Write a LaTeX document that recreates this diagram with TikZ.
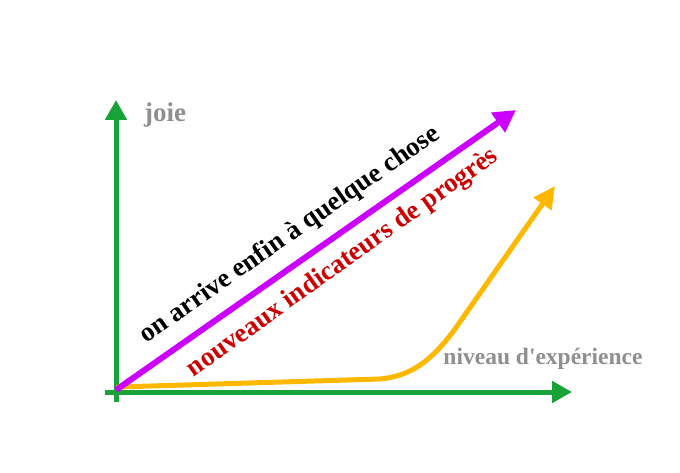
\documentclass[tikz,border=0pt]{standalone}
\usepackage{fontspec}
\setmainfont{Liberation Serif}
\usetikzlibrary{arrows.meta}
\definecolor{axisgreen}{HTML}{17A338}
\definecolor{violet}{HTML}{CC00FF}
\definecolor{gold}{HTML}{FFB800}
\definecolor{redtext}{HTML}{CC0000}
\definecolor{graytext}{HTML}{8F8F8F}
\tikzset{
  axisline/.style={draw=axisgreen, line width=5pt, -{Triangle[length=20pt,width=21pt]}},
  biglabel/.style={font=\bfseries\fontsize{27}{31}\selectfont, inner sep=0pt},
  axislabel/.style={font=\bfseries\fontsize{23.5}{27}\selectfont, text=graytext, inner sep=0pt}
}
\begin{document}
\begin{tikzpicture}[x=1pt,y=1pt]
\useasboundingbox (0,0) rectangle (680,472);
% axes
\coordinate (ybot) at (116,70);
\coordinate (ytop) at (116,372);
\coordinate (xleft) at (105,80);
\coordinate (xright) at (572,80);
\draw[axisline] (ybot) -- (ytop);
\draw[axisline] (xleft) -- (xright);
% orange curve
\coordinate (o0) at (118,85);
\coordinate (o1) at (380,93);
\coordinate (o2) at (455,143);
\coordinate (o3) at (555,286);
\draw[gold, line width=5pt, line cap=round, -{Triangle[length=22pt,width=21pt]}]
  (o0) -- (o1) .. controls (412,96) and (432,112) .. (o2) -- (o3);
% purple arrow
\coordinate (p0) at (116,82);
\coordinate (p1) at (516,362);
\draw[violet, line width=6pt, -{Triangle[length=22pt,width=23pt]}] (p0) -- (p1);
% labels
\node[axislabel, font=\bfseries\fontsize{27}{31}\selectfont] (joie) at (165,357) {joie};
\node[axislabel] (niveau) at (543,113) {niveau d\textquotesingle exp\'erience};
\node[biglabel, rotate=35] (arrive) at (290,237) {on arrive enfin à quelque chose};
\node[biglabel, text=redtext, rotate=35.5] (indic) at (343,209) {nouveaux indicateurs de progrès};
\end{tikzpicture}
\end{document}
